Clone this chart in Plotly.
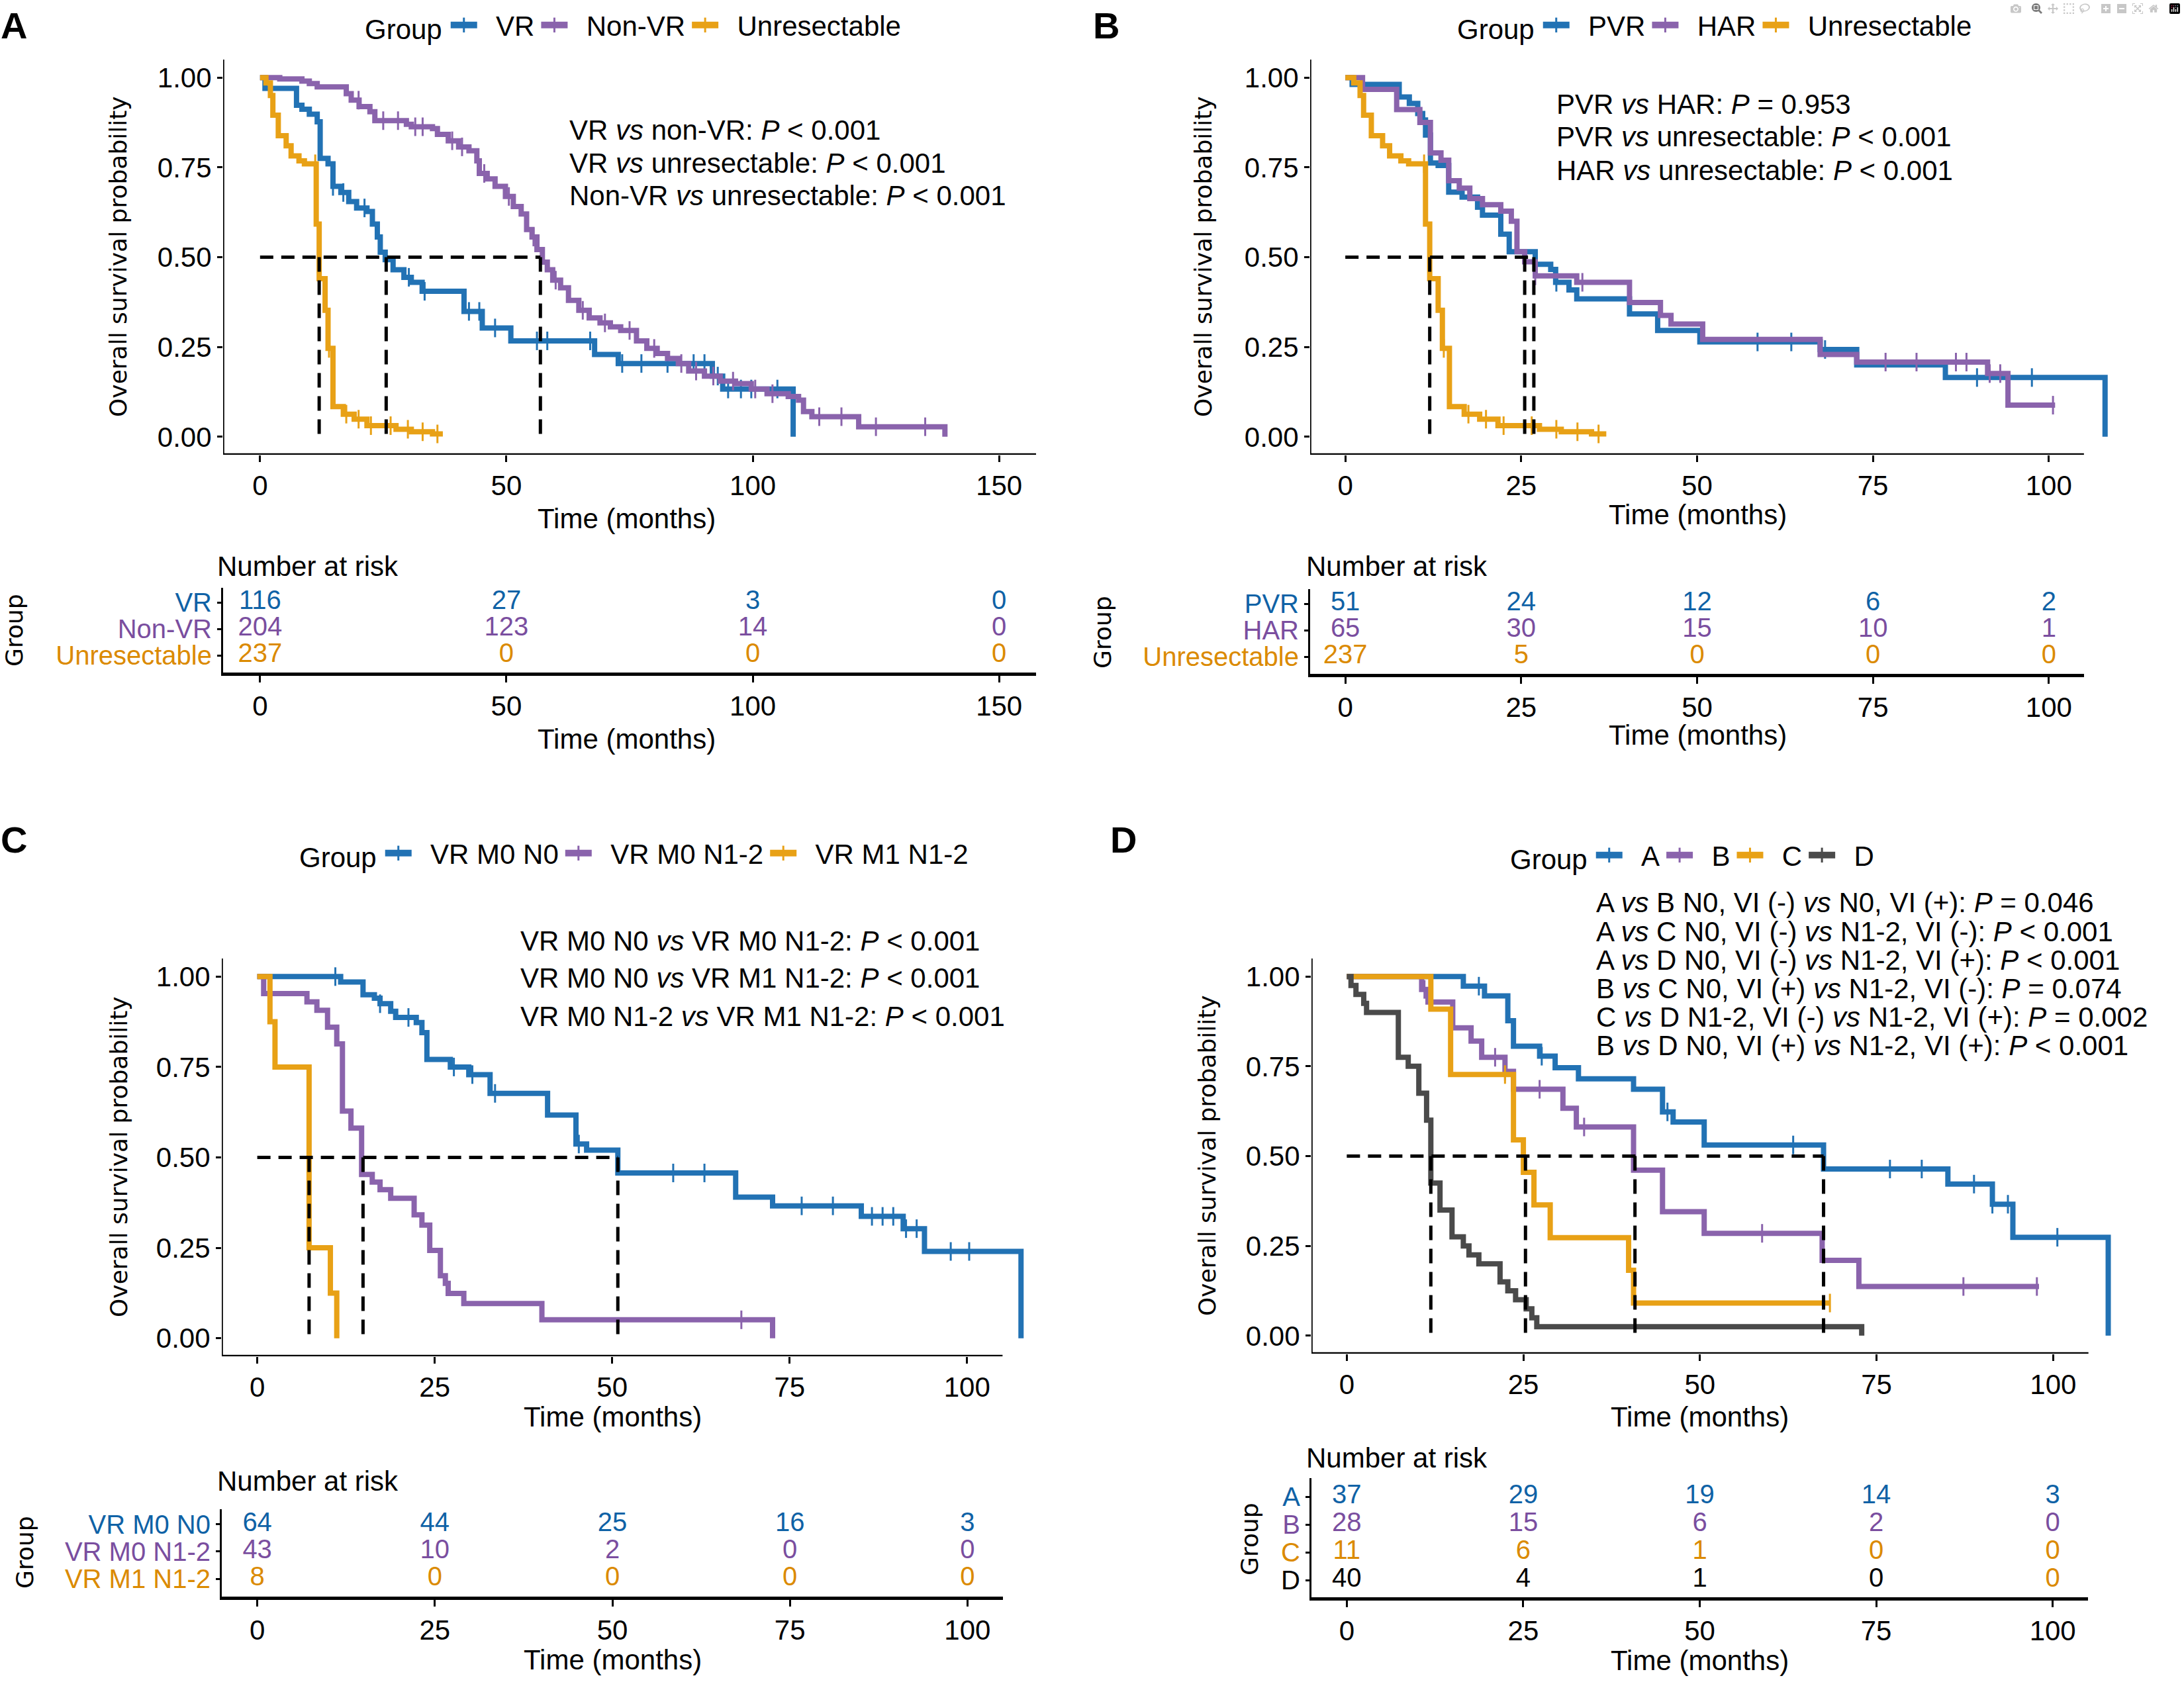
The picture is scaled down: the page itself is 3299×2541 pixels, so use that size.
import plotly.graph_objects as go

W, H = 3299, 2541

# ---------------- colours ----------------
BLUE, PURPLE, ORANGE, GREY = "#2272B4", "#8A63AC", "#E8A116", "#4A4A4A"
T_BLUE, T_PURPLE, T_ORANGE, T_BLACK = "#0F62A6", "#7A4E9F", "#DB8A00", "#000000"

# ---------------- data: panel A ----------------
A_names = ["VR", "Non-VR", "Unresectable"]
A_vr_t = [0, 1.0, 7.4, 8.5, 10.0, 11.6, 12.2, 13.8, 14.8, 16.4, 18.0, 19.6, 21.7, 22.8, 23.8,
          24.4, 25.4, 27.0, 29.2, 30.7, 32.9, 41.4, 45.1, 50.9, 67.9, 72.7, 91.8, 93.9, 108.2]
A_vr_s = [1.0, 0.97, 0.923, 0.912, 0.898, 0.877, 0.775, 0.76, 0.697, 0.68, 0.655, 0.637, 0.627, 0.592,
          0.556, 0.514, 0.493, 0.465, 0.444, 0.43, 0.405, 0.349, 0.303, 0.267, 0.229, 0.204, 0.169,
          0.133, 0.0]
A_vr_cens = [14.8, 16.9, 21.2, 30.2, 33.4, 42.4, 44.5, 47.7, 56.2, 58.3, 67.0, 73.5, 77.4, 82.7,
             88.0, 90.2, 92.9, 95.0, 97.6, 99.7, 105.0]
A_nvr_t = [0, 4.0, 8.5, 10.0, 11.6, 17.5, 18.5, 20.1, 22.3, 23.3, 29.7, 30.7, 35.0, 36.0, 38.2, 40.3,
           42.4, 44.0, 44.5, 46.1, 47.7, 49.8, 51.4, 53.0, 54.1, 55.2, 56.2, 57.3, 58.3, 59.4, 61.0,
           62.6, 64.7, 66.8, 69.0, 71.1, 73.2, 76.4, 78.5, 80.6, 82.7, 84.9, 87.0, 90.2, 93.4, 96.5,
           99.7, 102.9, 107.2, 109.3, 110.3, 112.0, 121.5, 139.0]
A_nvr_s = [1.0, 0.996, 0.99, 0.983, 0.974, 0.955, 0.937, 0.919, 0.905, 0.88, 0.87, 0.863, 0.858,
           0.842, 0.824, 0.807, 0.796, 0.768, 0.733, 0.718, 0.697, 0.669, 0.641, 0.62, 0.577, 0.556,
           0.521, 0.486, 0.465, 0.436, 0.415, 0.38, 0.352, 0.331, 0.317, 0.306, 0.296, 0.267, 0.246,
           0.232, 0.218, 0.204, 0.183, 0.169, 0.155, 0.148, 0.133, 0.12, 0.112, 0.102, 0.07, 0.056,
           0.028, 0.0]
A_nvr_cens = [20.0, 25.0, 28.0, 31.5, 33.0, 39.0, 41.0, 45.5, 50.5, 55.5, 60.0, 65.5, 70.0, 75.0,
              80.0, 85.5, 88.5, 92.0, 96.0, 100.5, 104.0, 113.5, 118.0, 125.0, 135.0]
A_unr_t = [0, 1.2, 2.1, 2.6, 3.7, 5.3, 6.3, 7.9, 9.0, 11.4, 12.0, 13.2, 13.8, 14.8, 16.9, 19.1,
           21.7, 27.6, 30.7, 35.0, 37.1]
A_unr_s = [1.0, 0.985, 0.95, 0.895, 0.838, 0.81, 0.782, 0.768, 0.76, 0.592, 0.44, 0.352, 0.246,
           0.084, 0.063, 0.049, 0.031, 0.021, 0.014, 0.008, 0.008]
A_unr_cens = [11.2, 14.0, 17.5, 20.0, 22.5, 26.5, 30.0, 33.0, 36.0]
A_medians = [12.0, 25.6, 56.9]
A_risk_times = [0, 50, 100, 150]
A_risk_vr = [116, 27, 3, 0]
A_risk_nvr = [204, 123, 14, 0]
A_risk_unr = [237, 0, 0, 0]
A_ticks = [0, 50, 100, 150]
A_pvals = ["VR <i>vs</i> non-VR: <i>P</i> &lt; 0.001",
           "VR <i>vs</i> unresectable: <i>P</i> &lt; 0.001",
           "Non-VR <i>vs</i> unresectable: <i>P</i> &lt; 0.001"]

# ---------------- data: panel B ----------------
B_names = ["PVR", "HAR", "Unresectable"]
B_pvr_t = [0, 0.97, 7.66, 9.1, 10.3, 11.0, 11.4, 12.1, 13.2, 14.7, 16.6, 18.8, 19.5, 22.1, 23.3,
           27.0, 29.2, 29.9, 31.8, 32.9, 40.4, 44.4, 50.4, 67.5, 72.7, 85.3, 108.0]
B_pvr_s = [1.0, 0.981, 0.946, 0.928, 0.9, 0.882, 0.84, 0.762, 0.755, 0.681, 0.667, 0.639, 0.617,
           0.564, 0.515, 0.48, 0.466, 0.43, 0.409, 0.384, 0.342, 0.296, 0.264, 0.243, 0.2, 0.165, 0.0]
B_pvr_cens = [22.0, 30.0, 58.6, 63.4, 68.2, 89.8, 97.6]
B_har_t = [0, 2.45, 7.3, 10.6, 12.1, 13.6, 14.7, 16.2, 17.7, 19.5, 22.1, 23.6, 24.4, 25.5, 27.0,
           32.9, 40.4, 44.8, 46.3, 50.8, 67.5, 72.7, 91.3, 94.2, 100.9]
B_har_s = [1.0, 0.967, 0.911, 0.875, 0.79, 0.77, 0.713, 0.692, 0.663, 0.646, 0.628, 0.6, 0.515,
           0.487, 0.448, 0.43, 0.374, 0.338, 0.314, 0.271, 0.229, 0.208, 0.176, 0.088, 0.088]
B_har_cens = [27.0, 33.7, 76.8, 81.2, 86.8, 88.3, 91.6, 93.1, 100.6]
B_medians = [12.0, 25.5, 26.8]
B_risk_times = [0, 25, 50, 75, 100]
B_risk_pvr = [51, 24, 12, 6, 2]
B_risk_har = [65, 30, 15, 10, 1]
B_risk_unr = [237, 5, 0, 0, 0]
B_ticks = [0, 25, 50, 75, 100]
B_pvals = ["PVR <i>vs</i> HAR: <i>P</i> = 0.953",
           "PVR <i>vs</i> unresectable: <i>P</i> &lt; 0.001",
           "HAR <i>vs</i> unresectable: <i>P</i> &lt; 0.001"]

# ---------------- data: panel C ----------------
C_names = ["VR M0 N0", "VR M0 N1-2", "VR M1 N1-2"]
C_n0_t = [0, 11.75, 14.9, 16.5, 17.3, 18.8, 19.5, 22.4, 23.2, 23.9, 27.2, 29.8, 32.8, 40.9, 44.9,
          46.4, 50.8, 67.4, 72.6, 85.1, 91.0, 94.0, 107.6]
C_n0_s = [1.0, 0.985, 0.95, 0.94, 0.925, 0.904, 0.887, 0.873, 0.845, 0.771, 0.75, 0.729, 0.677,
          0.617, 0.537, 0.52, 0.457, 0.39, 0.366, 0.337, 0.303, 0.24, 0.0]
C_n0_cens = [11.0, 17.3, 21.3, 27.7, 30.3, 33.5, 45.3, 58.6, 63.0, 76.7, 81.1, 86.6, 88.1, 89.6,
             91.4, 92.9, 97.7, 100.3]
C_n12_t = [0, 0.9, 7.0, 8.4, 9.9, 11.2, 12.0, 13.2, 14.7, 16.2, 17.3, 18.8, 22.1, 23.2, 24.3, 25.8,
           26.5, 26.9, 29.1, 40.1, 72.6]
C_n12_s = [1.0, 0.953, 0.93, 0.907, 0.86, 0.814, 0.628, 0.581, 0.453, 0.432, 0.411, 0.387, 0.341,
           0.313, 0.243, 0.173, 0.152, 0.124, 0.096, 0.051, 0.0]
C_n12_cens = [68.2]
C_m1_t = [0, 1.79, 2.5, 7.3, 10.3, 11.2]
C_m1_s = [1.0, 0.875, 0.75, 0.25, 0.125, 0.0]
C_m1_cens = []
C_medians = [7.3, 14.9, 50.8]
C_risk_times = [0, 25, 50, 75, 100]
C_risk_n0 = [64, 44, 25, 16, 3]
C_risk_n12 = [43, 10, 2, 0, 0]
C_risk_m1 = [8, 0, 0, 0, 0]
C_ticks = [0, 25, 50, 75, 100]
C_pvals = ["VR M0 N0 <i>vs</i> VR M0 N1-2: <i>P</i> &lt; 0.001",
           "VR M0 N0 <i>vs</i> VR M1 N1-2: <i>P</i> &lt; 0.001",
           "VR M0 N1-2 <i>vs</i> VR M1 N1-2: <i>P</i> &lt; 0.001"]

# ---------------- data: panel D ----------------
D_names = ["A", "B", "C", "D"]
D_a_t = [0, 16.5, 19.5, 22.8, 23.6, 27.3, 29.5, 32.8, 40.6, 44.7, 46.2, 50.6, 67.5, 85.1, 91.4,
         94.3, 107.8]
D_a_s = [1.0, 0.973, 0.946, 0.877, 0.806, 0.778, 0.746, 0.715, 0.686, 0.623, 0.595, 0.531, 0.464,
         0.422, 0.366, 0.274, 0.0]
D_a_cens = [18.7, 27.6, 45.4, 63.2, 76.9, 81.4, 88.8, 91.4, 93.6, 100.6]
D_b_t = [0, 10.6, 11.5, 15.0, 17.6, 19.1, 22.4, 23.6, 30.6, 32.5, 40.6, 44.7, 50.6, 67.3, 72.5, 98.0]
D_b_s = [1.0, 0.964, 0.929, 0.857, 0.82, 0.775, 0.736, 0.686, 0.633, 0.581, 0.461, 0.345, 0.285,
         0.21, 0.137, 0.137]
D_b_cens = [11.0, 21.0, 22.4, 27.3, 33.6, 58.8, 87.3, 97.7]
D_c_t = [0, 11.9, 14.7, 23.6, 25.0, 26.5, 28.8, 39.9, 40.6, 68.4]
D_c_s = [1.0, 0.909, 0.727, 0.545, 0.455, 0.364, 0.273, 0.182, 0.091, 0.091]
D_c_cens = [22.4, 68.4]
D_d_t = [0, 0.6, 1.3, 2.4, 2.8, 7.3, 8.7, 10.2, 11.3, 11.9, 13.2, 14.9, 16.5, 17.3, 18.7, 21.7,
         22.8, 23.9, 25.4, 26.2, 26.9, 72.9]
D_d_s = [1.0, 0.975, 0.95, 0.925, 0.9, 0.775, 0.75, 0.675, 0.6, 0.425, 0.35, 0.275, 0.25, 0.225,
         0.2, 0.15, 0.125, 0.1, 0.075, 0.05, 0.025, 0.0]
D_d_cens = []
D_medians = [11.9, 25.3, 40.8, 67.5]
D_risk_times = [0, 25, 50, 75, 100]
D_risk_a = [37, 29, 19, 14, 3]
D_risk_b = [28, 15, 6, 2, 0]
D_risk_c = [11, 6, 1, 0, 0]
D_risk_d = [40, 4, 1, 0, 0]
D_ticks = [0, 25, 50, 75, 100]
D_pvals = ["A <i>vs</i> B N0, VI (-) <i>vs</i> N0, VI (+): <i>P</i> = 0.046",
           "A <i>vs</i> C N0, VI (-) <i>vs</i> N1-2, VI (-): <i>P</i> &lt; 0.001",
           "A <i>vs</i> D N0, VI (-) <i>vs</i> N1-2, VI (+): <i>P</i> &lt; 0.001",
           "B <i>vs</i> C N0, VI (+) <i>vs</i> N1-2, VI (-): <i>P</i> = 0.074",
           "C <i>vs</i> D N1-2, VI (-) <i>vs</i> N1-2, VI (+): <i>P</i> = 0.002",
           "B <i>vs</i> D N0, VI (+) <i>vs</i> N1-2, VI (+): <i>P</i> &lt; 0.001"]

# ---------------- layout helpers ----------------
FONT = "Liberation Sans, Arial, sans-serif"
WFONT = "DejaVu Sans, Verdana, sans-serif"
FS = 42
TFS = 40


def dx(p0, p1):
    return [p0 / W, p1 / W]


def dy(top, bottom):
    return [1 - bottom / H, 1 - top / H]


def surv_at(ts, ss, t):
    v = ss[0]
    for ti, si in zip(ts, ss):
        if ti <= t:
            v = si
    return v


def cspan(txt, col):
    return f"<span style='color:{col}'>{txt}</span>"


panels = [
    dict(letter="A", letter_xy=(21, 38),
         curves=[(A_vr_t, A_vr_s, A_vr_cens, BLUE), (A_nvr_t, A_nvr_s, A_nvr_cens, PURPLE),
                 (A_unr_t, A_unr_s, A_unr_cens, ORANGE)],
         names=A_names, medians=A_medians, ticks=A_ticks,
         risk_times=A_risk_times, risk=[A_risk_vr, A_risk_nvr, A_risk_unr],
         risk_cols=[[T_BLUE] * 4, [T_PURPLE] * 4, [T_ORANGE] * 4],
         label_cols=[T_BLUE, T_PURPLE, T_ORANGE],
         pvals=A_pvals, p_x=858, p_y=[196, 246, 296],
         km_px=(337, 1565), km_range=[-7.5, 157.5], axis_lim=[-7.5, 157.5],
         km_py=(90, 687), tab_px=(337, 1565), tab_range=[-7.5, 157.5],
         tab_py=(888, 1016), tab_yr=[0.35, 3.55],
         leg_xy=(549, 38), ytitle_xy=(179, 388), xtitle_x=946, xtitle_y=783,
         nar_xy=(326, 855), tgroup_xy=(21, 952), ttitle_y=1117),
    dict(letter="B", letter_xy=(1671, 38),
         curves=[(B_pvr_t, B_pvr_s, B_pvr_cens, BLUE), (B_har_t, B_har_s, B_har_cens, PURPLE),
                 (A_unr_t, A_unr_s, A_unr_cens, ORANGE)],
         names=B_names, medians=B_medians, ticks=B_ticks,
         risk_times=B_risk_times, risk=[B_risk_pvr, B_risk_har, B_risk_unr],
         risk_cols=[[T_BLUE] * 5, [T_PURPLE] * 5, [T_ORANGE] * 5],
         label_cols=[T_BLUE, T_PURPLE, T_ORANGE],
         pvals=B_pvals, p_x=2349, p_y=[157, 207, 258],
         km_px=(1979, 3201), km_range=[-5, 110], axis_lim=[-5, 105],
         km_py=(90, 687), tab_px=(1979, 3148), tab_range=[-5, 105],
         tab_py=(890, 1018), tab_yr=[0.35, 3.55],
         leg_xy=(2199, 38), ytitle_xy=(1818, 388), xtitle_x=2564, xtitle_y=777,
         nar_xy=(1971, 855), tgroup_xy=(1665, 955), ttitle_y=1110),
    dict(letter="C", letter_xy=(21, 1269),
         curves=[(C_n0_t, C_n0_s, C_n0_cens, BLUE), (C_n12_t, C_n12_s, C_n12_cens, PURPLE),
                 (C_m1_t, C_m1_s, C_m1_cens, ORANGE)],
         names=C_names, medians=C_medians, ticks=C_ticks,
         risk_times=C_risk_times, risk=[C_risk_n0, C_risk_n12, C_risk_m1],
         risk_cols=[[T_BLUE] * 5, [T_PURPLE] * 5, [T_ORANGE] * 5],
         label_cols=[T_BLUE, T_PURPLE, T_ORANGE],
         pvals=C_pvals, p_x=784, p_y=[1421, 1478, 1535],
         km_px=(335, 1568), km_range=[-5, 110], axis_lim=[-5, 105],
         km_py=(1448, 2049), tab_px=(335, 1515), tab_range=[-5, 105],
         tab_py=(2280, 2412), tab_yr=[0.35, 3.55],
         leg_xy=(450, 1289), ytitle_xy=(179, 1748), xtitle_x=925, xtitle_y=2140,
         nar_xy=(326, 2237), tgroup_xy=(37, 2345), ttitle_y=2507),
    dict(letter="D", letter_xy=(1697, 1269),
         curves=[(D_a_t, D_a_s, D_a_cens, BLUE), (D_b_t, D_b_s, D_b_cens, PURPLE),
                 (D_c_t, D_c_s, D_c_cens, ORANGE), (D_d_t, D_d_s, D_d_cens, GREY)],
         names=D_names, medians=D_medians, ticks=D_ticks,
         risk_times=D_risk_times, risk=[D_risk_a, D_risk_b, D_risk_c, D_risk_d],
         risk_cols=[[T_BLUE] * 5, [T_PURPLE] * 5, [T_ORANGE] * 5,
                    [T_BLACK, T_BLACK, T_BLACK, T_BLACK, T_ORANGE]],
         label_cols=[T_BLUE, T_PURPLE, T_ORANGE, T_BLACK],
         pvals=D_pvals, p_x=2409, p_y=[1363, 1407, 1450, 1493, 1536, 1579],
         km_px=(1981, 3208), km_range=[-5, 110], axis_lim=[-5, 105],
         km_py=(1448, 2045), tab_px=(1981, 3154), tab_range=[-5, 105],
         tab_py=(2233, 2413), tab_yr=[0.38, 4.68],
         leg_xy=(2279, 1292), ytitle_xy=(1823, 1746), xtitle_x=2567, xtitle_y=2140,
         nar_xy=(1971, 2202), tgroup_xy=(1887, 2325), ttitle_y=2508),
]

fig = go.Figure()
layout = dict(width=W, height=H, margin=dict(l=0, r=0, t=0, b=0),
              paper_bgcolor="white", plot_bgcolor="white", showlegend=True,
              font=dict(family=FONT, size=FS, color="black"))
annotations, shapes = [], []

for i, p in enumerate(panels):
    k_km, k_tab = 2 * i + 1, 2 * i + 2
    xa_km = "x" if k_km == 1 else f"x{k_km}"
    ya_km = "y" if k_km == 1 else f"y{k_km}"
    xa_tab, ya_tab = f"x{k_tab}", f"y{k_tab}"
    leg = "legend" if i == 0 else f"legend{i + 1}"

    # curves
    for (ts, ss, cens, col), name in zip(p["curves"], p["names"]):
        fig.add_trace(go.Scatter(x=ts, y=ss, mode="lines", line=dict(color=col, width=8, shape="hv"),
                                 xaxis=xa_km, yaxis=ya_km, showlegend=False, hoverinfo="skip"))
        if cens:
            fig.add_trace(go.Scatter(x=cens, y=[surv_at(ts, ss, c) for c in cens], mode="markers",
                                     marker=dict(symbol="line-ns", size=20,
                                                 line=dict(color=col, width=3)),
                                     xaxis=xa_km, yaxis=ya_km, showlegend=False, hoverinfo="skip"))
        # legend entry
        fig.add_trace(go.Scatter(x=[None], y=[None], mode="lines+markers",
                                 name="&nbsp;&nbsp;" + name,
                                 line=dict(color=col, width=10),
                                 marker=dict(symbol="line-ns", size=16, line=dict(color=col, width=3)),
                                 xaxis=xa_km, yaxis=ya_km, legend=leg, showlegend=True))
    # median dashed lines
    meds = p["medians"]
    fig.add_trace(go.Scatter(x=[0, max(meds)], y=[0.5, 0.5], mode="lines",
                             line=dict(color="black", width=5, dash="20px,12px"),
                             xaxis=xa_km, yaxis=ya_km, showlegend=False, hoverinfo="skip"))
    vx, vy = [], []
    for m in meds:
        vx += [m, m, None]
        vy += [0.5, 0.0, None]
    fig.add_trace(go.Scatter(x=vx, y=vy, mode="lines",
                             line=dict(color="black", width=5, dash="22px,13px"),
                             xaxis=xa_km, yaxis=ya_km, showlegend=False, hoverinfo="skip"))

    # risk table numbers
    nrow = len(p["risk"])
    tx, ty, tt, tc = [], [], [], []
    for r, (vals, cols) in enumerate(zip(p["risk"], p["risk_cols"])):
        for t, v, c in zip(p["risk_times"], vals, cols):
            tx.append(t)
            ty.append(nrow - r)
            tt.append(str(v))
            tc.append(c)
    fig.add_trace(go.Scatter(x=tx, y=ty, text=tt, mode="text",
                             textfont=dict(family=FONT, size=TFS, color=tc),
                             xaxis=xa_tab, yaxis=ya_tab, showlegend=False, hoverinfo="skip"))

    # axes
    common_x = dict(tickvals=p["ticks"], ticktext=[str(t) for t in p["ticks"]], ticks="outside",
                    ticklen=10, tickwidth=3, tickcolor="black", showgrid=False, zeroline=False,
                    tickfont=dict(family=FONT, size=FS, color="black"), fixedrange=True)
    layout["xaxis" if k_km == 1 else f"xaxis{k_km}"] = dict(
        common_x, domain=dx(*p["km_px"]), range=p["km_range"], anchor=ya_km, showline=False)
    layout["yaxis" if k_km == 1 else f"yaxis{k_km}"] = dict(
        domain=dy(*p["km_py"]), range=[-0.05, 1.05], anchor=xa_km,
        tickvals=[0, 0.25, 0.5, 0.75, 1.0], ticktext=["0.00", "0.25", "0.50", "0.75", "1.00"],
        ticks="outside", ticklen=8, tickwidth=3, tickcolor="black", showgrid=False,
        zeroline=False, showline=False, tickfont=dict(family=FONT, size=FS, color="black"))
    layout[f"xaxis{k_tab}"] = dict(
        common_x, domain=dx(*p["tab_px"]), range=p["tab_range"], anchor=ya_tab,
        showline=True, linewidth=4.5, linecolor="black")
    layout[f"yaxis{k_tab}"] = dict(
        domain=dy(*p["tab_py"]), range=p["tab_yr"], anchor=xa_tab,
        tickvals=list(range(nrow, 0, -1)),
        ticktext=[cspan(n, c) for n, c in zip(p["names"], p["label_cols"])],
        ticks="outside", ticklen=6, tickwidth=3, tickcolor="black", showgrid=False,
        zeroline=False, showline=True, linewidth=3, linecolor="black",
        tickfont=dict(family=FONT, size=TFS))

    # axis lines of KM plot (curves may run past the axis end)
    x0, x1 = p["axis_lim"]
    shapes.append(dict(type="line", xref=xa_km, yref=ya_km, x0=x0, x1=x1, y0=-0.05, y1=-0.05,
                       line=dict(color="black", width=4.5), layer="above"))
    shapes.append(dict(type="line", xref=xa_km, yref=ya_km, x0=x0, x1=x0, y0=-0.05, y1=1.05,
                       line=dict(color="black", width=3.5), layer="above"))

    # legend
    lx, ly = p["leg_xy"]
    layout[leg] = dict(orientation="h", x=lx / W, y=1 - ly / H, xanchor="left", yanchor="middle",
                       title=dict(text="Group", side="left", font=dict(family=FONT, size=FS)),
                       font=dict(family=FONT, size=FS, color="black"),
                       bgcolor="rgba(0,0,0,0)", itemwidth=40, tracegroupgap=0)

    # annotations
    ax_, ay_ = p["letter_xy"]
    annotations.append(dict(text=f"<b>{p['letter']}</b>", x=ax_ / W, y=1 - ay_ / H, xref="paper",
                            yref="paper", showarrow=False, xanchor="center", yanchor="middle",
                            font=dict(family=FONT, size=56, color="black")))
    yx, yy = p["ytitle_xy"]
    annotations.append(dict(text="Overall survival probability", x=yx / W, y=1 - yy / H,
                            xref="paper", yref="paper", showarrow=False, textangle=-90,
                            xanchor="center", yanchor="middle",
                            font=dict(family=WFONT, size=36, color="black")))
    for ty_ in (p["xtitle_y"], p["ttitle_y"]):
        annotations.append(dict(text="Time (months)", x=p["xtitle_x"] / W, y=1 - ty_ / H,
                                xref="paper", yref="paper", showarrow=False, xanchor="center",
                                yanchor="middle", font=dict(family=FONT, size=FS, color="black")))
    nx, ny = p["nar_xy"]
    annotations.append(dict(text="Number at risk", x=nx / W, y=1 - ny / H, xref="paper",
                            yref="paper", showarrow=False, xanchor="left", yanchor="middle",
                            font=dict(family=FONT, size=FS, color="black")))
    gx, gy = p["tgroup_xy"]
    annotations.append(dict(text="Group", x=gx / W, y=1 - gy / H, xref="paper", yref="paper",
                            showarrow=False, textangle=-90, xanchor="center", yanchor="middle",
                            font=dict(family=WFONT, size=36, color="black")))
    for txt, py_ in zip(p["pvals"], p["p_y"]):
        annotations.append(dict(text=txt, x=p["p_x"] / W, y=1 - py_ / H, xref="paper",
                                yref="paper", showarrow=False, xanchor="left", yanchor="middle",
                                font=dict(family=FONT, size=FS, color="black")))

layout["annotations"] = annotations
layout["shapes"] = shapes
fig.update_layout(**layout)
fig.write_html("out.html", post_script="document.body.style.margin='0';")
